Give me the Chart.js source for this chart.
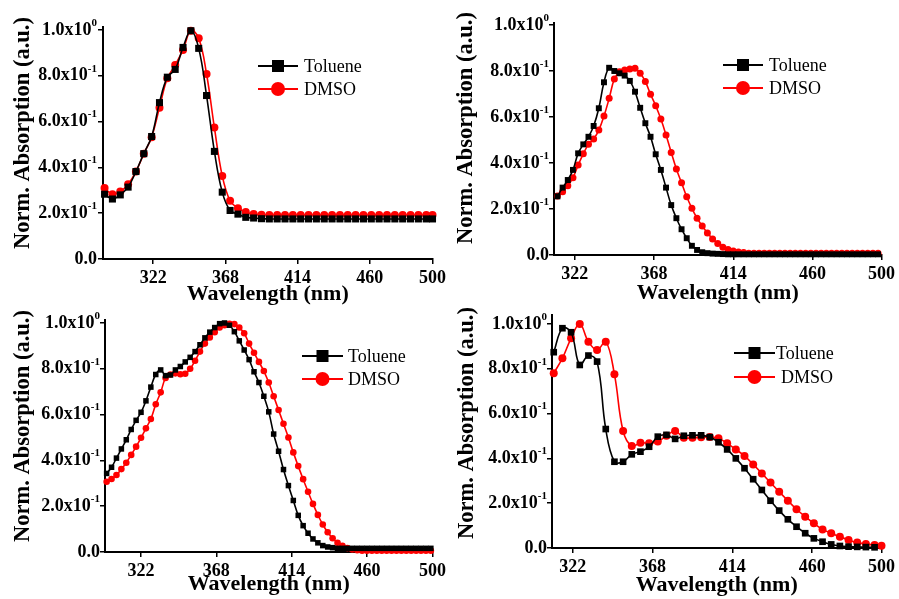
<!DOCTYPE html>
<html>
<head>
<meta charset="utf-8">
<script src="https://cdn.jsdelivr.net/npm/chart.js@4.4.1/dist/chart.umd.min.js"></script>
<style>
  body { margin: 0; background: #fff; }
  #wrap { position: relative; width: 899px; height: 599px; overflow: hidden; }
  canvas { position: absolute; }
</style>
</head>
<body>
<div id="wrap">
  <canvas id="p1" width="450" height="310" style="left:0;top:0"></canvas>
  <canvas id="p2" width="449" height="310" style="left:450px;top:0"></canvas>
  <canvas id="p3" width="450" height="299" style="left:0;top:300px"></canvas>
  <canvas id="p4" width="449" height="299" style="left:450px;top:300px"></canvas>
</div>
<script>
// axis ticks shared by all four panels
const xTicks = [322, 368, 414, 460, 500];
const yTicks = [0, 0.2, 0.4, 0.6, 0.8, 1.0];
const yTickBase = ['0.0', '2.0x10', '4.0x10', '6.0x10', '8.0x10', '1.0x10'];
const yTickExp = ['', '-1', '-1', '-1', '-1', '0'];
const seriesNames = ['Toluene', 'DMSO'];

// panel 1 (top left)
const p1Wavelength = [291, 296, 301, 306, 311, 316, 321, 326, 331, 336, 341, 346, 351, 356, 361, 366, 371, 376, 381, 386, 391,
  396, 401, 406, 411, 416, 421, 426, 431, 436, 441, 446, 451, 456, 461, 466, 471, 476, 481, 486, 491, 496, 500];
const p1Toluene = [0.283, 0.262, 0.28, 0.314, 0.382, 0.46, 0.535, 0.683, 0.794, 0.828, 0.924, 0.997, 0.92, 0.714, 0.47, 0.292, 0.212, 0.196, 0.182, 0.179, 0.176,
  0.175, 0.175, 0.175, 0.175, 0.175, 0.175, 0.175, 0.175, 0.175, 0.175, 0.175, 0.175, 0.175, 0.175, 0.175, 0.175, 0.175, 0.175, 0.175, 0.175, 0.175, 0.175];
const p1Dmso = [0.31, 0.283, 0.295, 0.327, 0.382, 0.46, 0.532, 0.661, 0.789, 0.847, 0.913, 0.997, 0.964, 0.808, 0.574, 0.363, 0.254, 0.222, 0.205, 0.196, 0.193,
  0.192, 0.192, 0.192, 0.192, 0.192, 0.192, 0.192, 0.192, 0.192, 0.192, 0.192, 0.192, 0.192, 0.192, 0.192, 0.192, 0.192, 0.192, 0.192, 0.192, 0.192, 0.192];

// panel 2 (top right)
const p2Wavelength = [312, 315, 318, 321, 324, 327, 330, 333, 336, 339, 342, 345, 348, 351, 354, 357, 360, 363, 366, 369, 372,
  375, 378, 381, 384, 387, 390, 393, 396, 399, 402, 405, 408, 411, 414, 417, 420, 423, 426, 429, 432, 435, 438, 441, 444, 447,
  450, 453, 456, 459, 462, 465, 468, 471, 474, 477, 480, 483, 486, 489, 492, 495, 498];
const p2Toluene = [0.255, 0.293, 0.326, 0.37, 0.442, 0.481, 0.514, 0.561, 0.638, 0.751, 0.814, 0.80, 0.79, 0.78, 0.757, 0.71, 0.64,
  0.573, 0.514, 0.438, 0.37, 0.293, 0.217, 0.16, 0.112, 0.073, 0.04, 0.022, 0.012, 0.008, 0.006, 0.005, 0.004,
  0.003, 0.003, 0.003, 0.003, 0.003, 0.003, 0.003, 0.003, 0.003, 0.003, 0.003, 0.003, 0.003, 0.003, 0.003,
  0.003, 0.003, 0.003, 0.003, 0.003, 0.003, 0.003, 0.003, 0.003, 0.003, 0.003, 0.003, 0.003, 0.003, 0.003];
const p2Dmso = [0.257, 0.275, 0.301, 0.336, 0.391, 0.44, 0.481, 0.504, 0.543, 0.604, 0.681, 0.765, 0.797, 0.804, 0.809, 0.812, 0.79,
  0.754, 0.699, 0.649, 0.591, 0.522, 0.446, 0.374, 0.314, 0.253, 0.203, 0.16, 0.126, 0.096, 0.07, 0.05, 0.034, 0.024, 0.017, 0.013, 0.011,
  0.008, 0.008, 0.008, 0.008, 0.008, 0.008, 0.008, 0.008, 0.008, 0.008, 0.008, 0.008, 0.008,
  0.008, 0.008, 0.008, 0.008, 0.008, 0.008, 0.008, 0.008, 0.008, 0.008, 0.008, 0.008, 0.008];

// panel 3 (bottom left)
const p3Wavelength = [301, 304, 307, 310, 313, 316, 319, 322, 325, 328, 331, 334, 337, 340, 343, 346, 349, 352, 355, 358, 361,
  364, 367, 370, 373, 376, 379, 382, 385, 388, 391, 394, 397, 400, 403, 406, 409, 412, 415, 418, 421, 424, 427, 430, 433, 436,
  439, 442, 445, 448, 451, 454, 457, 460, 463, 466, 469, 472, 475, 478, 481, 484, 487, 490, 493, 496, 499];
const p3Toluene = [0.343, 0.37, 0.41, 0.45, 0.49, 0.535, 0.575, 0.61, 0.66, 0.72, 0.775, 0.795, 0.77, 0.773, 0.795, 0.81, 0.83,
  0.85, 0.875, 0.905, 0.935, 0.96, 0.98, 0.997, 1.0, 0.99, 0.962, 0.922, 0.882, 0.84, 0.787, 0.74, 0.68, 0.612, 0.515, 0.44,
  0.36, 0.29, 0.225, 0.16, 0.115, 0.082, 0.057, 0.04, 0.028, 0.022, 0.019,
  0.016, 0.016, 0.016, 0.016, 0.016, 0.016, 0.016, 0.016, 0.016, 0.016, 0.016, 0.016, 0.016, 0.016, 0.016, 0.016, 0.016, 0.016, 0.016, 0.016];
const p3Dmso = [0.307, 0.319, 0.336, 0.362, 0.39, 0.424, 0.46, 0.499, 0.54, 0.581, 0.645, 0.697, 0.76, 0.775, 0.78, 0.776, 0.778,
  0.80, 0.835, 0.875, 0.91, 0.937, 0.96, 0.98, 0.99, 0.996, 0.995, 0.98, 0.955, 0.91, 0.87, 0.83, 0.79, 0.74, 0.68, 0.62, 0.56,
  0.5, 0.435, 0.375, 0.318, 0.263, 0.21, 0.162, 0.12, 0.086, 0.06, 0.04, 0.027, 0.017, 0.011, 0.008,
  0.006, 0.006, 0.006, 0.006, 0.006, 0.006, 0.006, 0.006, 0.006, 0.006, 0.006, 0.006, 0.006, 0.006, 0.006];

// panel 4 (bottom right)
const p4Wavelength = [311, 316, 321, 326, 331, 336, 341, 346, 351, 356, 361, 366, 371, 376, 381, 386, 391, 396, 401, 406, 411,
  416, 421, 426, 431, 436, 441, 446, 451, 456, 461, 466, 471, 476, 481, 486, 491, 496, 500];
const p4Toluene = [0.874, 0.981, 0.963, 0.817, 0.859, 0.832, 0.531, 0.385, 0.385, 0.418, 0.43, 0.452, 0.497, 0.505, 0.487, 0.501,
  0.503, 0.503, 0.495, 0.472, 0.44, 0.4, 0.356, 0.307, 0.259, 0.211, 0.167, 0.128, 0.095, 0.066, 0.043, 0.028, 0.016, 0.009,
  0.006, 0.005, 0.004, 0.003];
const p4Dmso = [0.78, 0.847, 0.936, 1.0, 0.921, 0.884, 0.921, 0.775, 0.522, 0.455, 0.47, 0.467, 0.475, 0.501, 0.522, 0.492,
  0.492, 0.494, 0.495, 0.49, 0.467, 0.44, 0.411, 0.373, 0.333, 0.292, 0.251, 0.211, 0.173, 0.14, 0.11, 0.083, 0.066, 0.05,
  0.036, 0.024, 0.018, 0.013, 0.01];

const serif = '"Liberation Serif", "Times New Roman", "DejaVu Serif", serif';

// legend inside the plot + y labels with real superscripts + rotated y title
const panelText = {
  id: 'panelText',
  afterDraw(chart, args, opts) {
    const ctx = chart.ctx;
    const ys = chart.scales.y;
    ctx.save();

    // y tick labels, exponent drawn raised and small
    ctx.fillStyle = '#000';
    ctx.textBaseline = 'middle';
    ctx.textAlign = 'right';
    yTicks.forEach((v, i) => {
      const py = ys.getPixelForValue(v);
      let right = ys.right - opts.labelGap;
      if (yTickExp[i]) {
        ctx.font = 'bold 11px ' + serif;
        ctx.fillText(yTickExp[i], right, py - 7);
        right -= ctx.measureText(yTickExp[i]).width;
      }
      ctx.font = 'bold 18px ' + serif;
      ctx.fillText(yTickBase[i], right, py);
    });

    // y axis title
    ctx.save();
    ctx.translate(opts.titleX, opts.titleY);
    ctx.rotate(-Math.PI / 2);
    ctx.textAlign = 'center';
    ctx.font = 'bold 22.5px ' + serif;
    ctx.fillText('Norm. Absorption (a.u.)', 0, 0);
    ctx.restore();

    // legend
    const lg = opts.legend;
    chart.data.datasets.forEach((ds, i) => {
      const y = lg.y[i];
      const cx = lg.x + lg.len / 2;
      ctx.strokeStyle = ds.borderColor;
      ctx.lineWidth = 2;
      ctx.beginPath();
      ctx.moveTo(lg.x, y);
      ctx.lineTo(lg.x + lg.len, y);
      ctx.stroke();
      ctx.fillStyle = ds.borderColor;
      if (ds.pointStyle === 'rect') {
        ctx.fillRect(cx - 6, y - 6, 12, 12);
      } else {
        ctx.beginPath();
        ctx.arc(cx, y, 7, 0, Math.PI * 2);
        ctx.fill();
      }
      ctx.fillStyle = '#000';
      ctx.font = '18px ' + serif;
      ctx.textBaseline = 'middle';
      ctx.textAlign = 'left';
      ctx.fillText(ds.label, lg.textX[i], y + 1);
    });
    ctx.restore();
  }
};

function points(xs, ys) {
  return ys.map((v, i) => ({ x: xs[i], y: v }));
}

function makePanel(id, xs, tol, dmso, g) {
  const ctx = document.getElementById(id).getContext('2d');
  return new Chart(ctx, {
    type: 'line',
    data: {
      datasets: [{
        label: seriesNames[0],
        data: points(xs, tol),
        borderColor: '#000000',
        backgroundColor: '#000000',
        borderWidth: 1.6,
        pointStyle: 'rect',
        pointRadius: g.sq,
        pointBorderWidth: 0,
        tension: 0.4,
        clip: false
      }, {
        label: seriesNames[1],
        data: points(xs, dmso),
        borderColor: '#ff0000',
        backgroundColor: '#ff0000',
        borderWidth: 1.6,
        pointStyle: 'circle',
        pointRadius: g.ci,
        pointBorderWidth: 0,
        tension: 0.4,
        clip: false
      }]
    },
    options: {
      responsive: false,
      animation: false,
      devicePixelRatio: 1,
      layout: { padding: { left: 0, top: g.top, right: g.right, bottom: 0 } },
      plugins: {
        legend: { display: false },
        tooltip: { enabled: false },
        panelText: { legend: g.legend, labelGap: g.gap, titleX: g.tx, titleY: g.ty }
      },
      scales: {
        x: {
          type: 'linear',
          min: g.xmin,
          max: 500,
          afterBuildTicks: s => { s.ticks = xTicks.map(v => ({ value: v })); },
          afterFit: s => { s.height = g.xh; },
          ticks: {
            color: '#000',
            font: { family: serif, size: 18, weight: 'bold' },
            padding: 4,
            maxRotation: 0,
            autoSkip: false,
            callback: v => String(v)
          },
          grid: { display: true, drawOnChartArea: false, drawTicks: true, tickLength: 5, color: '#000', lineWidth: 1.5 },
          border: { display: true, color: '#000', width: 2 },
          title: {
            display: true,
            text: 'Wavelength (nm)',
            color: '#000',
            font: { family: serif, size: 22, weight: 'bold' },
            padding: { top: 0, bottom: g.xtp }
          }
        },
        y: {
          min: 0,
          max: g.ymax,
          afterBuildTicks: s => { s.ticks = yTicks.map(v => ({ value: v })); },
          afterFit: s => { s.width = g.left; },
          ticks: { display: false },
          grid: { display: true, drawOnChartArea: false, drawTicks: true, tickLength: 5, color: '#000', lineWidth: 1.5 },
          border: { display: true, color: '#000', width: 2 },
          title: { display: false }
        }
      }
    },
    plugins: [panelText]
  });
}

makePanel('p1', p1Wavelength, p1Toluene, p1Dmso, {
  xmin: 290, ymax: 1.015, left: 103, right: 17, top: 26.6, xh: 51, xtp: 2, sq: 5, ci: 4,
  gap: 6, tx: 23, ty: 133,
  legend: { x: 258, len: 40, y: [66, 89], textX: [304, 304] }
});
makePanel('p2', p2Wavelength, p2Toluene, p2Dmso, {
  xmin: 310, ymax: 1.01, left: 104, right: 15, top: 22.7, xh: 55, xtp: 3, sq: 4.2, ci: 3.5,
  gap: 5, tx: 16, ty: 128,
  legend: { x: 273, len: 40, y: [65, 88], textX: [319, 319] }
});
makePanel('p3', p3Wavelength, p3Toluene, p3Dmso, {
  xmin: 300, ymax: 1.013, left: 105, right: 15, top: 20, xh: 47, xtp: 1, sq: 3.9, ci: 3.3,
  gap: 5, tx: 23, ty: 126,
  legend: { x: 302, len: 41, y: [56, 79], textX: [348, 348] }
});
makePanel('p4', p4Wavelength, p4Toluene, p4Dmso, {
  xmin: 310, ymax: 1.04, left: 102, right: 17, top: 15, xh: 51, xtp: 0, sq: 4.7, ci: 4,
  gap: 5, tx: 17, ty: 123,
  legend: { x: 284, len: 41, y: [53, 77], textX: [326, 331] }
});
</script>
</body>
</html>
